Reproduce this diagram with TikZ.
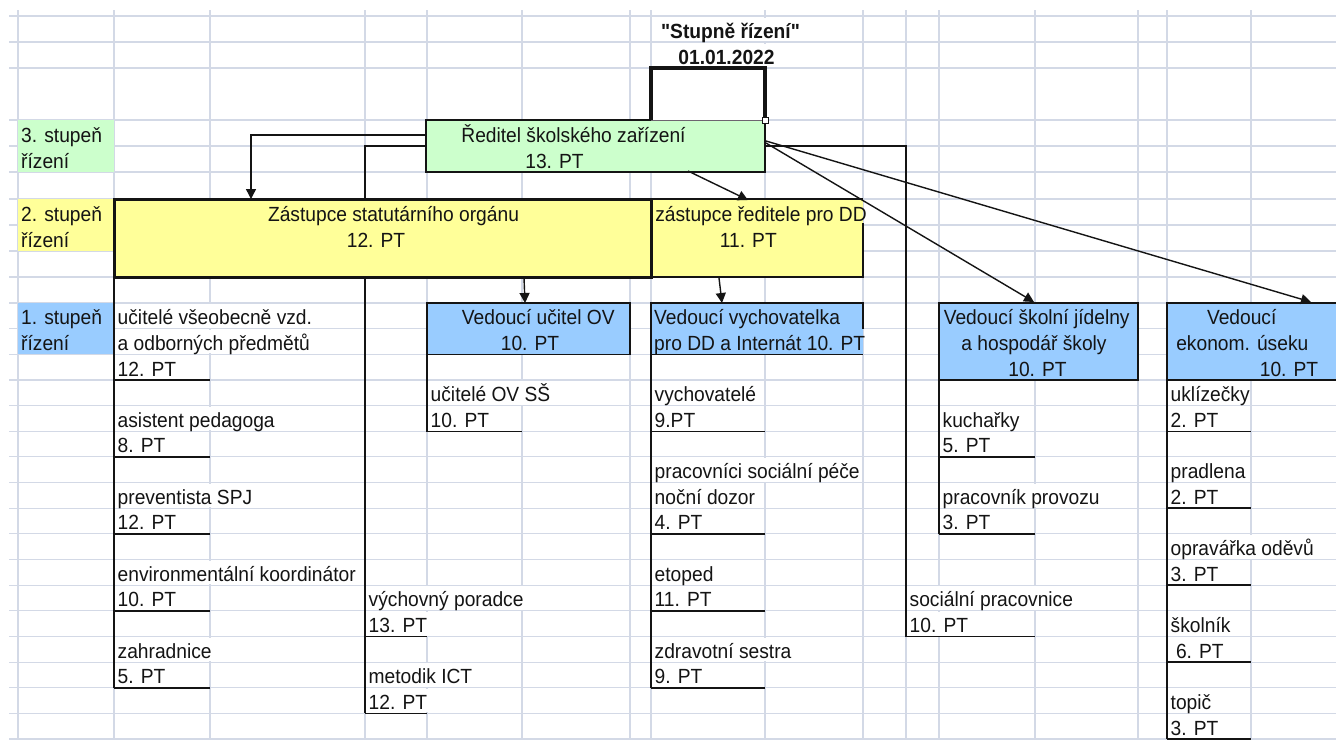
\documentclass[tikz,border=0pt]{standalone}
\usepackage{fontspec}
\setmainfont{Liberation Sans}[FakeStretch=0.937]
\newfontfamily\plainsans{Liberation Sans}[FakeStretch=0.937]
\usetikzlibrary{arrows.meta}
\newcommand\xlfont{\fontsize{20.5}{24}\selectfont}
\definecolor{gridc}{HTML}{D3D9E6}
\definecolor{xgreen}{HTML}{CCFFCC}
\definecolor{xyellow}{HTML}{FFFF99}
\definecolor{xblue}{HTML}{99CCFF}
\definecolor{ink}{HTML}{141414}
\definecolor{thinb}{HTML}{6E6470}
\begin{document}
\begin{tikzpicture}[x=1pt,y=-1pt,
  gridline/.style={gridc, line width=1.1},
  fillbox/.style={draw=none, inner sep=0, outer sep=0, anchor=north west},
  wtxt/.style={anchor=base west, inner xsep=0.5, inner ysep=0, text height=20.5, text depth=3, fill=white, font=\xlfont, text=ink},
  wctxt/.style={anchor=base, inner xsep=0.5, inner ysep=0, text height=20.5, text depth=3, fill=white, font=\xlfont\plainsans\bfseries, text=ink},
  ltxt/.style={anchor=base west, inner sep=0, font=\xlfont, text=ink},
  ctxt/.style={anchor=base, inner sep=0, font=\xlfont, text=ink},
  bracket/.style={ink, line width=1.6},
  conn/.style={ink, line width=1.4},
  arr/.style={conn, -{Triangle[width=10,length=10]}}
]
\useasboundingbox (0,0) rectangle (1336,740);
\fill[white] (0,0) rectangle (1336,740);
% ---------- grid ----------
\foreach \y in {16,42,68,120,146,172,199,225,251,277,303,328.7,354.3,380,405.6,431.3,456.9,482.6,508.2,533.9,559.5,585.2,610.8,636.5,662.1,687.8,713.4,739}
  \draw[gridline] (9,\y) -- (1336,\y);
\foreach \x in {18,114,210,365,427,522,630,651,765,863,906,939,1035,1138,1167,1251}
  \draw[gridline] (\x,10) -- (\x,740);
% ---------- level labels ----------
\node[fillbox, fill=xgreen, minimum width=96, minimum height=52] (lab3) at (18,120) {};
\node[fillbox, fill=xyellow, minimum width=96, minimum height=52] (lab2) at (18,199) {};
\node[fillbox, fill=xblue, minimum width=96, minimum height=51.3] (lab1) at (18,303) {};
\node[ltxt] (l3a) at (21,142) {3. stupeň};
\node[ltxt] (l3b) at (21,168) {řízení};
\node[ltxt] (l2a) at (21,221) {2. stupeň};
\node[ltxt] (l2b) at (21,247) {řízení};
\node[ltxt] (l1a) at (21,324.7) {1. stupeň};
\node[ltxt] (l1b) at (21,350.3) {řízení};
% ---------- title ----------
\node[wctxt] (title) at (730.5,38) {"Stupně řízení"};
\node[wctxt] (date) at (726.5,64) {01.01.2022};
% ---------- top small box ----------
\node[fillbox, fill=white, minimum width=114, minimum height=52] (topbox) at (651,68) {};
% ---------- director ----------
\node[fillbox, fill=xgreen, minimum width=339, minimum height=52] (reditel) at (426,120) {};
\draw[line width=3.5, ink] (651,120) -- (651,68) -- (765,68) -- (765,120);
\draw[line width=1, thinb] (651,120) -- (765,120);
\draw[line width=2.6, ink] (651,120) -- (426,120) -- (426,172) -- (765,172) -- (765,120);
\node[draw=ink, fill=white, line width=0.9, minimum size=6, inner sep=0] (handle) at (765,120) {};
\node[ctxt] (redA) at (573.5,142) {Ředitel školského zařízení};
\node[ctxt] (redB) at (554.5,168) {13. PT};
% ---------- deputies ----------
\node[fillbox, fill=xyellow, minimum width=537, minimum height=78] (zast) at (114,199) {};
\node[fillbox, fill=xyellow, minimum width=212, minimum height=78] (zastdd) at (651,199) {};
\draw[line width=1.5, ink] (651,199) -- (863,199);
\draw[line width=1.5, ink] (863,223) -- (863,277) -- (651,277);
\draw[line width=3, ink] (114,199) rectangle (651,277);
\node[ctxt] (zastA) at (393.5,221) {Zástupce statutárního orgánu};
\node[ctxt] (zastB) at (376,247) {12. PT};
\node[ctxt] (zddA) at (761,221) {zástupce ředitele pro DD};
\node[ctxt] (zddB) at (748.3,247) {11. PT};
% ---------- level 1 heads ----------
\node[fillbox, fill=xblue, minimum width=203, minimum height=51.3] (ov) at (427,303) {};
\draw[line width=1.5, ink] (427,303) rectangle (630,354.3);
\node[ctxt] (ovA) at (538.3,324.7) {Vedoucí učitel OV};
\node[ctxt] (ovB) at (530,350.3) {10. PT};
\node[fillbox, fill=xblue, minimum width=212, minimum height=51.3] (vych) at (651,303) {};
\draw[line width=1.5, ink] (863,328.7) -- (863,303) -- (651,303) -- (651,354.3) -- (863,354.3);
\node[ltxt] (vychA) at (654,324.7) {Vedoucí vychovatelka};
\node[ltxt] (vychB) at (654,350.3) {pro DD a Internát 10. PT};
\node[fillbox, fill=xblue, minimum width=199, minimum height=77] (jid) at (939,303) {};
\draw[line width=1.5, ink] (939,303) rectangle (1138,380);
\node[ctxt] (jidA) at (1036.7,324.7) {Vedoucí školní jídelny};
\node[ctxt] (jidB) at (1034,350.3) {a hospodář školy};
\node[ctxt] (jidC) at (1037.5,376) {10. PT};
\node[fillbox, fill=xblue, minimum width=169, minimum height=77] (ek) at (1167,303) {};
\draw[line width=1.5, ink] (1336,303) -- (1167,303) -- (1167,380) -- (1336,380);
\node[ctxt] (ekA) at (1241.7,324.7) {Vedoucí};
\node[ctxt] (ekB) at (1242.3,350.3) {ekonom. úseku};
\node[ctxt] (ekC) at (1289,376) {10. PT};
% ---------- staff texts ----------
\node[wtxt] (a1) at (117,324.7) {učitelé všeobecně vzd.};
\node[wtxt] (a2) at (117,350.3) {a odborných předmětů};
\node[wtxt] (a3) at (117,376) {12. PT};
\node[wtxt] (a4) at (117,427.3) {asistent pedagoga};
\node[wtxt] (a5) at (117,452.9) {8. PT};
\node[wtxt] (a6) at (117,504.2) {preventista SPJ};
\node[wtxt] (a7) at (117,529.9) {12. PT};
\node[wtxt] (a8) at (117,581.2) {environmentální koordinátor};
\node[wtxt] (a9) at (117,606.8) {10. PT};
\node[wtxt] (a10) at (117,658.1) {zahradnice};
\node[wtxt] (a11) at (117,683.8) {5. PT};
\node[wtxt] (b1) at (368,606.8) {výchovný poradce};
\node[wtxt] (b2) at (368,632.5) {13. PT};
\node[wtxt] (b3) at (368,683.8) {metodik ICT};
\node[wtxt] (b4) at (368,709.4) {12. PT};
\node[wtxt] (c1) at (430,401.6) {učitelé OV SŠ};
\node[wtxt] (c2) at (430,427.3) {10. PT};
\node[wtxt] (d1) at (654,401.6) {vychovatelé};
\node[wtxt] (d2) at (654,427.3) {9.PT};
\node[wtxt] (d3) at (654,478.6) {pracovníci sociální péče};
\node[wtxt] (d4) at (654,504.2) {noční dozor};
\node[wtxt] (d5) at (654,529.9) {4. PT};
\node[wtxt] (d6) at (654,581.2) {etoped};
\node[wtxt] (d7) at (654,606.8) {11. PT};
\node[wtxt] (d8) at (654,658.1) {zdravotní sestra};
\node[wtxt] (d9) at (654,683.8) {9. PT};
\node[wtxt] (e1) at (909,606.8) {sociální pracovnice};
\node[wtxt] (e2) at (909,632.5) {10. PT};
\node[wtxt] (f1) at (942,427.3) {kuchařky};
\node[wtxt] (f2) at (942,452.9) {5. PT};
\node[wtxt] (f3) at (942,504.2) {pracovník provozu};
\node[wtxt] (f4) at (942,529.9) {3. PT};
\node[wtxt] (g1) at (1170,401.6) {uklízečky};
\node[wtxt] (g2) at (1170,427.3) {2. PT};
\node[wtxt] (g3) at (1170,478.6) {pradlena};
\node[wtxt] (g4) at (1170,504.2) {2. PT};
\node[wtxt] (g5) at (1170,555.5) {opravářka oděvů};
\node[wtxt] (g6) at (1170,581.2) {3. PT};
\node[wtxt] (g7) at (1170,632.5) {školník};
\node[wtxt] (g8) at (1170,658.1) {\ 6. PT};
\node[wtxt] (g9) at (1170,709.4) {topič};
\node[wtxt] (g10) at (1170,735) {3. PT};
% ---------- named connector points ----------
\coordinate (rL1) at (426,135);
\coordinate (rL2) at (426,146);
\coordinate (rB) at (688,171);
\coordinate (rR1) at (766,141);
\coordinate (rR2) at (766,143);
\coordinate (rR3) at (765,146);
\coordinate (zTop) at (251,199);
\coordinate (zddTop) at (748,200);
\coordinate (jidTop) at (1034,302);
\coordinate (ekTop) at (1311,302);
\coordinate (ovTop) at (525,303);
\coordinate (ovFrom) at (524,278);
\coordinate (vychTop) at (722,303);
\coordinate (vychFrom) at (719,278);
% ---------- connectors ----------
\draw[arr] (rL1) -| (zTop);
\draw[conn] (rL2) -| (365,199);
\draw[arr] (rB) -- (zddTop);
\draw[arr] (rR2) -- (jidTop);
\draw[arr] (rR1) -- (ekTop);
\draw[conn] (rR3) -| (906,636.5);
\draw[arr] (ovFrom) -- (ovTop);
\draw[arr] (vychFrom) -- (vychTop);
% ---------- brackets ----------
\draw[bracket] (114,277) -- (114,687.8);
\foreach \y in {380,456.9,533.9,610.8,687.8} \draw[bracket] (114,\y) -- (210,\y);
\draw[bracket] (365,277) -- (365,713.4);
\foreach \y in {636.5,713.4} \draw[bracket] (365,\y) -- (427,\y);
\draw[bracket] (427,354.3) -- (427,431.3) -- (522,431.3);
\draw[bracket] (651,354.3) -- (651,687.8);
\foreach \y in {431.3,533.9,610.8,687.8} \draw[bracket] (651,\y) -- (765,\y);
\draw[bracket] (906,636.5) -- (1035,636.5);
\draw[bracket] (939,380) -- (939,533.9);
\foreach \y in {456.9,533.9} \draw[bracket] (939,\y) -- (1035,\y);
\draw[bracket] (1167,380) -- (1167,739);
\foreach \y in {431.3,508.2,585.2,662.1,739} \draw[bracket] (1167,\y) -- (1251,\y);
\end{tikzpicture}
\end{document}
